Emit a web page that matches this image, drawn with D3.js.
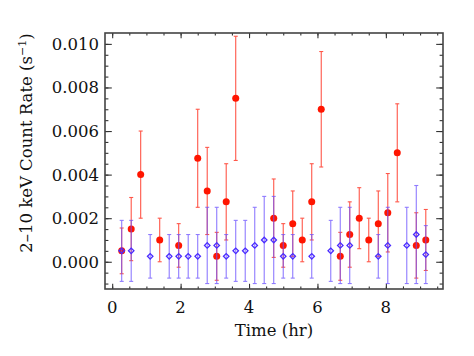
<!DOCTYPE html>
<html>

<head>
    <meta charset="utf-8">
    <script src="https://d3js.org/d3.v7.min.js"></script>
    <style>
        body {
            margin: 0;
            background: #fff;
        }

        text {
            font-family: 'DejaVu Serif', serif;
            fill: #111;
        }
    </style>
</head>

<body>
    <div id="chart"></div>

    <script>
        // 2-10 keV light curve, two sources, 1000 s bins
        const redTime = [0.278, 0.556, 0.833, 1.389, 1.944, 2.5, 2.778, 3.056, 3.333, 3.611, 4.722, 5.0, 5.278,
            5.556, 5.833, 6.111, 6.667, 6.944, 7.222, 7.5, 7.778, 8.056, 8.333, 8.889, 9.167];
        const redRate = [0.0005, 0.0015, 0.004, 0.001, 0.00075, 0.00475, 0.00325, 0.00025, 0.00275, 0.0075, 0.002,
            0.00075, 0.00175, 0.001, 0.00275, 0.007, 0.00025, 0.00125, 0.002, 0.001, 0.00175, 0.00225, 0.005,
            0.00075, 0.001];
        const redErr = [0.00105, 0.00145, 0.002, 0.001, 0.001, 0.00225, 0.002, 0.0011, 0.00175, 0.00285, 0.0018,
            0.001, 0.0015, 0.001, 0.00175, 0.00265, 0.0011, 0.0015, 0.0014, 0.001, 0.0015, 0.0018, 0.00225,
            0.0015, 0.0014];

        const blueTime = [0.278, 0.556, 1.111, 1.667, 1.944, 2.222, 2.5, 2.778, 3.056, 3.333, 3.611, 3.889, 4.167,
            4.444, 4.722, 5.0, 5.278, 5.833, 6.389, 6.667, 6.944, 7.778, 8.056, 8.611, 8.889, 9.167];
        const blueRate = [0.0005, 0.0005, 0.00025, 0.00025, 0.00025, 0.00025, 0.00025, 0.00075, 0.00075, 0.00025,
            0.0005, 0.0005, 0.00075, 0.001, 0.001, 0.00025, 0.00025, 0.00025, 0.0005, 0.00075, 0.00075, 0.00025,
            0.00075, 0.00075, 0.00125, 0.00033];
        const blueErr = [0.0014, 0.0014, 0.001, 0.001, 0.001, 0.001, 0.001, 0.00175, 0.00175, 0.001, 0.0014, 0.0014,
            0.00175, 0.002, 0.002, 0.001, 0.001, 0.001, 0.0014, 0.00175, 0.00175, 0.001, 0.00175, 0.00175,
            0.00225, 0.00133];

        const xTicks = [0, 2, 4, 6, 8];
        const yTicks = [0.000, 0.002, 0.004, 0.006, 0.008, 0.010];

        var width = 474,
            height = 356,
            margin = { top: 33, right: 31, bottom: 67, left: 105 };

        var svg = d3.select("#chart").append("svg")
            .attr("width", width)
            .attr("height", height);

        var x = d3.scaleLinear()
            .domain([-0.21, 9.67])
            .range([margin.left, width - margin.right]);

        var y = d3.scaleLinear()
            .domain([-0.00125, 0.0105])
            .range([height - margin.bottom, margin.top]);

        const redData = redTime.map((t, i) => ({ t: t, v: redRate[i], e: redErr[i] }));
        const blueData = blueTime.map((t, i) => ({ t: t, v: blueRate[i], e: blueErr[i] }));

        // minor ticks every 0.5 hr and 0.0005 c/s
        const xMinor = d3.range(0, 9.6, 0.5);
        const yMinor = d3.range(-0.001, 0.0105, 0.0005);

        const plotW = width - margin.left - margin.right,
            plotH = height - margin.top - margin.bottom;
        const xLen = 5.2, yLen = 6.8;

        const frame = svg.append("g");

        // ticks point inward on all four sides
        [
            [d3.axisTop, x, height - margin.bottom, xTicks, xLen, "x"],
            [d3.axisTop, x, height - margin.bottom, xMinor, xLen / 2, "x"],
            [d3.axisBottom, x, margin.top, xTicks, xLen, "x"],
            [d3.axisBottom, x, margin.top, xMinor, xLen / 2, "x"],
            [d3.axisRight, y, margin.left, yTicks, yLen, "y"],
            [d3.axisRight, y, margin.left, yMinor, yLen / 2, "y"],
            [d3.axisLeft, y, width - margin.right, yTicks, yLen, "y"],
            [d3.axisLeft, y, width - margin.right, yMinor, yLen / 2, "y"]
        ].forEach(function (a) {
            var g = frame.append("g")
                .attr("transform", a[5] === "x" ? "translate(0," + a[2] + ")" : "translate(" + a[2] + ",0)")
                .call(a[0](a[1]).tickValues(a[3]).tickSize(a[4]).tickFormat(""));
            g.select(".domain").remove();
            g.selectAll("line").attr("stroke", "#333").attr("stroke-width", 1.1);
        });

        frame.append("rect")
            .attr("x", margin.left)
            .attr("y", margin.top)
            .attr("width", plotW)
            .attr("height", plotH)
            .attr("fill", "none")
            .attr("stroke", "#444")
            .attr("stroke-width", 1.6);

        // tick labels
        svg.append("g").selectAll("text")
            .data(xTicks)
            .enter()
            .append("text")
            .attr("x", d => x(d))
            .attr("y", height - margin.bottom + 24)
            .attr("text-anchor", "middle")
            .style("font-size", "16.5px")
            .text(d => d);

        svg.append("g").selectAll("text")
            .data(yTicks)
            .enter()
            .append("text")
            .attr("x", margin.left - 6)
            .attr("y", d => y(d) + 6)
            .attr("text-anchor", "end")
            .style("font-size", "16.5px")
            .text(d => d3.format(".3f")(d));

        svg.append("text")
            .attr("x", margin.left + plotW / 2)
            .attr("y", height - margin.bottom + 47)
            .attr("text-anchor", "middle")
            .style("font-size", "16.5px")
            .text("Time (hr)");

        var ylab = svg.append("text")
            .attr("transform", "translate(32," + (margin.top + plotH * 0.43) + ") rotate(-90)")
            .attr("text-anchor", "middle")
            .style("font-size", "16.5px");
        ylab.append("tspan").text("2\u201310 keV Count Rate (s");
        ylab.append("tspan").attr("dy", -6).style("font-size", "11px").text("\u22121");
        ylab.append("tspan").attr("dy", 6).text(")");

        function errorBars(parent, data, color) {
            var g = parent.append("g")
                .attr("stroke", color)
                .attr("stroke-width", 1.1);
            g.selectAll(".bar")
                .data(data)
                .enter()
                .append("line")
                .attr("x1", d => x(d.t))
                .attr("x2", d => x(d.t))
                .attr("y1", d => y(d.v - d.e))
                .attr("y2", d => y(d.v + d.e));
            g.selectAll(".cap")
                .data(data.flatMap(d => [d.v - d.e, d.v + d.e].map(v => ({ t: d.t, v: v }))))
                .enter()
                .append("line")
                .attr("x1", d => x(d.t) - 2)
                .attr("x2", d => x(d.t) + 2)
                .attr("y1", d => y(d.v))
                .attr("y2", d => y(d.v));
            return g;
        }

        // red source first
        errorBars(svg, redData, "#ff3a2a").attr("opacity", 0.85);
        svg.append("g").selectAll("circle")
            .data(redData)
            .enter()
            .append("circle")
            .attr("cx", d => x(d.t))
            .attr("cy", d => y(d.v))
            .attr("r", 3.5)
            .attr("fill", "#ff1500");

        // blue source drawn on top, a bit transparent
        errorBars(svg, blueData, "#6a50ff").attr("opacity", 0.75);

        var diamond = d3.symbol().type(d3.symbolSquare).size(15);
        svg.append("g").selectAll("path")
            .data(blueData)
            .enter()
            .append("path")
            .attr("d", diamond)
            .attr("transform", d => "translate(" + x(d.t) + "," + y(d.v) + ") rotate(45)")
            .attr("fill", "none")
            .attr("stroke", "#4a2cff")
            .attr("stroke-width", 1.3);
    </script>
</body>

</html>
